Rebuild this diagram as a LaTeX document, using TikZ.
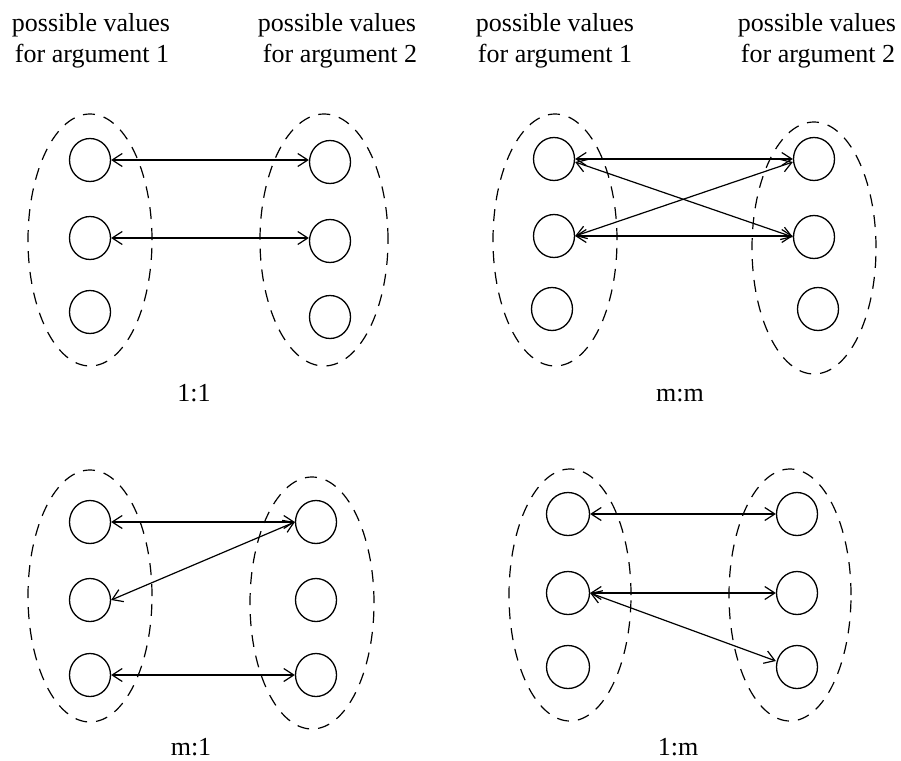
\documentclass[tikz,border=0pt]{standalone}
\usepackage{fontspec}
\setmainfont{Liberation Serif}
\usetikzlibrary{arrows.meta,shapes.geometric}
\tikzset{
  val/.style={draw, ellipse, line width=1.3pt, minimum width=41pt, minimum height=43pt, inner sep=0pt},
  grp/.style={draw, line width=1.2pt, dash pattern=on 12pt off 9pt},
  link/.style={line width=1.2pt, {Straight Barb[length=10pt,width=13pt]}-{Straight Barb[length=10pt,width=13pt]}},
  txt/.style={font=\fontsize{26}{31}\selectfont, anchor=base, inner sep=0pt},
}
\begin{document}
\begin{tikzpicture}[x=1pt,y=-1pt]
\useasboundingbox (0,0) rectangle (901,760);
% headers
\node[txt] (h1a) at (91,32) {possible values};
\node[txt] (h1b) at (92,63) {for argument 1};
\node[txt] (h2a) at (337,32) {possible values};
\node[txt] (h2b) at (340,63) {for argument 2};
\node[txt] (h3a) at (555,32) {possible values};
\node[txt] (h3b) at (555,63) {for argument 1};
\node[txt] (h4a) at (817,32) {possible values};
\node[txt] (h4b) at (818,63) {for argument 2};
% quadrant 1: 1:1
\draw[grp] (90,240) ellipse [x radius=62pt, y radius=126pt];
\draw[grp] (324,240) ellipse [x radius=64pt, y radius=126pt];
\node[val] (al1) at (90,160) {};
\node[val] (al2) at (90,238) {};
\node[val] (al3) at (90,312) {};
\node[val] (ar1) at (330,162) {};
\node[val] (ar2) at (330,241) {};
\node[val] (ar3) at (330,317) {};
\draw[link] (al1.east) -- (al1.east -| ar1.west);
\draw[link] (al2.east) -- (al2.east -| ar2.west);
\node[txt] (t1) at (194,401) {1:1};
% quadrant 2: m:m
\draw[grp] (555,240) ellipse [x radius=62pt, y radius=126pt];
\draw[grp] (814,248) ellipse [x radius=62pt, y radius=126pt];
\node[val] (bl1) at (554,159) {};
\node[val] (bl2) at (554,236) {};
\node[val] (bl3) at (552,309) {};
\node[val] (br1) at (814,159) {};
\node[val] (br2) at (814,237) {};
\node[val] (br3) at (818,309) {};
\draw[link] (bl1.east) -- (bl1.east -| br1.west);
\draw[link] (bl2.east) -- (bl2.east -| br2.west);
\draw[link] ([yshift=-3pt]bl1.east) -- (br2.west);
\draw[link] (bl2.east) -- ([yshift=-3pt]br1.west);
\node[txt] (t2) at (680,401) {m:m};
% quadrant 3: m:1
\draw[grp] (90,596) ellipse [x radius=62pt, y radius=126pt];
\draw[grp] (312,603) ellipse [x radius=62pt, y radius=126pt];
\node[val] (cl1) at (90,522) {};
\node[val] (cl2) at (90,600) {};
\node[val] (cl3) at (90,675) {};
\node[val] (cr1) at (316,522) {};
\node[val] (cr2) at (316,600) {};
\node[val] (cr3) at (316,675) {};
\draw[link] (cl1.east) -- (cl1.east -| cr1.west);
\draw[link] (cl2.east) -- (cr1.west);
\draw[link] (cl3.east) -- (cl3.east -| cr3.west);
\node[txt] (t3) at (191,755) {m:1};
% quadrant 4: 1:m
\draw[grp] (570,595) ellipse [x radius=61pt, y radius=126pt];
\draw[grp] (790,595) ellipse [x radius=61pt, y radius=126pt];
\node[val, minimum width=43pt] (dl1) at (568,514) {};
\node[val, minimum width=43pt] (dl2) at (568,593) {};
\node[val, minimum width=43pt] (dl3) at (568,667) {};
\node[val] (dr1) at (797,514) {};
\node[val] (dr2) at (797,593) {};
\node[val] (dr3) at (797,667) {};
\draw[link] (dl1.east) -- (dl1.east -| dr1.west);
\draw[link] (dl2.east) -- (dl2.east -| dr2.west);
\draw[link] (dl2.east) -- ([yshift=6pt]dr3.west);
\node[txt] (t4) at (678,755) {1:m};
\end{tikzpicture}
\end{document}
